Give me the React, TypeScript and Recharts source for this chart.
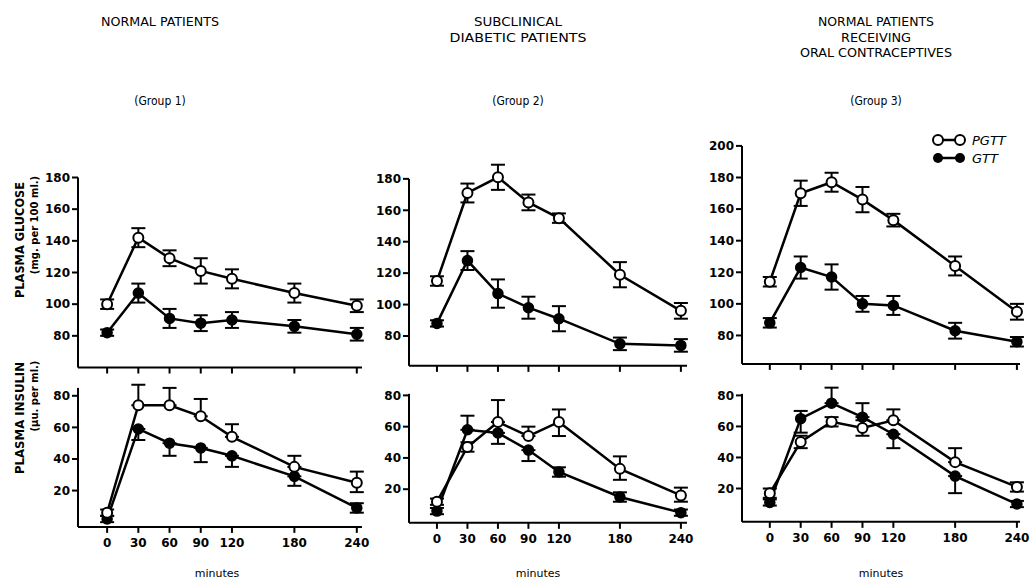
import React from 'react';
import { LineChart, Line, XAxis, YAxis, ErrorBar, ReferenceLine } from 'recharts';

// ---------- shared categories & ticks ----------
const minutes = [0, 30, 60, 90, 120, 180, 240];
const xTicks = [0, 30, 60, 90, 120, 180, 240];
const glucoseTicks = [80, 100, 120, 140, 160, 180];
const glucoseTicksG3 = [80, 100, 120, 140, 160, 180, 200];
const insulinTicks = [20, 40, 60, 80];

// ---------- text ----------
const groupTitles = [
  ['NORMAL PATIENTS'],
  ['SUBCLINICAL', 'DIABETIC PATIENTS'],
  ['NORMAL PATIENTS', 'RECEIVING', 'ORAL CONTRACEPTIVES'],
];
const groupLabels = ['(Group 1)', '(Group 2)', '(Group 3)'];
const seriesNames = ['PGTT', 'GTT'];

// ---------- Group 1 ----------
const g1GlucosePgtt = [100, 142, 129, 121, 116, 107, 99];
const g1GlucosePgttErr = [3, 6, 5, 8, 6, 6, 4];
const g1GlucoseGtt = [82, 107, 91, 88, 90, 86, 81];
const g1GlucoseGttErr = [2, 6, 6, 5, 5, 4, 4];
const g1InsulinPgtt = [6, 74, 74, 67, 54, 35, 25];
const g1InsulinPgttErr = [[2, 2], [0, 13], [0, 11], [0, 11], [0, 8], [0, 7], [6, 7]];
const g1InsulinGtt = [2, 59, 50, 47, 42, 29, 9];
const g1InsulinGttErr = [[2, 2], [7, 0], [8, 0], [9, 0], [7, 0], [6, 0], [3, 3]];

// ---------- Group 2 ----------
const g2GlucosePgtt = [115, 171, 181, 165, 155, 119, 96];
const g2GlucosePgttErr = [3, 6, 8, 5, 3, 8, 5];
const g2GlucoseGtt = [88, 128, 107, 98, 91, 75, 74];
const g2GlucoseGttErr = [2, 6, 9, 7, 8, 4, 4];
const g2InsulinPgtt = [12, 47, 63, 54, 63, 33, 16];
const g2InsulinPgttErr = [[2, 2], [3, 3], [0, 14], [0, 6], [9, 8], [7, 8], [4, 5]];
const g2InsulinGtt = [6, 58, 56, 45, 31, 15, 5];
const g2InsulinGttErr = [[2, 2], [0, 9], [7, 0], [7, 0], [3, 3], [3, 3], [2, 2]];

// ---------- Group 3 ----------
const g3GlucosePgtt = [114, 170, 177, 166, 153, 124, 95];
const g3GlucosePgttErr = [3, 8, 6, 8, 4, 6, 5];
const g3GlucoseGtt = [88, 123, 117, 100, 99, 83, 76];
const g3GlucoseGttErr = [3, 7, 8, 5, 6, 5, 3];
const g3InsulinPgtt = [17, 50, 63, 59, 64, 37, 21];
const g3InsulinPgttErr = [[3, 3], [4, 4], [3, 3], [5, 5], [0, 7], [0, 9], [3, 3]];
const g3InsulinGtt = [11, 65, 75, 66, 55, 28, 10];
const g3InsulinGttErr = [[2, 2], [9, 5], [0, 10], [0, 9], [9, 0], [11, 0], [2, 2]];

// ---------- layout (pixels / domains) ----------
type Geo = {
  left: number; right: number; bottom: number; axisTopPx: number;
  xMin: number; xMax: number; yMin: number; yAxisTop: number; yMax: number;
};
const geoG1Glu: Geo = { left: 78, right: 362, bottom: 367, axisTopPx: 177, xMin: -28, xMax: 245, yMin: 60, yAxisTop: 180, yMax: 186 };
const geoG1Ins: Geo = { left: 78, right: 362, bottom: 527, axisTopPx: 388, xMin: -28, xMax: 245, yMin: -3, yAxisTop: 85, yMax: 90 };
const geoG2Glu: Geo = { left: 409, right: 687, bottom: 366, axisTopPx: 179, xMin: -27.5, xMax: 246, yMin: 61, yAxisTop: 180, yMax: 192 };
const geoG2Ins: Geo = { left: 409, right: 687, bottom: 523, axisTopPx: 394, xMin: -27.5, xMax: 246, yMin: -1.5, yAxisTop: 81, yMax: 86 };
const geoG3Glu: Geo = { left: 742, right: 1020, bottom: 364, axisTopPx: 146, xMin: -27, xMax: 243, yMin: 62, yAxisTop: 200, yMax: 205 };
const geoG3Ins: Geo = { left: 742, right: 1020, bottom: 522, axisTopPx: 394, xMin: -27, xMax: 243, yMin: -1.5, yAxisTop: 81, yMax: 88 };

const FONT = "'DejaVu Sans', 'Liberation Sans', sans-serif";
const COND = "'DejaVu Sans Condensed', 'DejaVu Sans', sans-serif";
const tickStyle = { fill: '#000', fontSize: 12, fontFamily: FONT, fontWeight: 700 };

type PanelProps = {
  geo: Geo;
  pgtt: number[]; pgttErr: any[];
  gtt: number[]; gttErr: any[];
  yTicks: number[];
  showXLabels: boolean;
};

function Panel({ geo, pgtt, pgttErr, gtt, gttErr, yTicks, showXLabels }: PanelProps) {
  const data = minutes.map((m, i) => ({ m, p: pgtt[i], pe: pgttErr[i], g: gtt[i], ge: gttErr[i] }));
  const YW = 50, MT = 6, MR = 12, XH = 42;
  const pxPerUnit = (geo.bottom - geo.axisTopPx) / (geo.yAxisTop - geo.yMin);
  const plotTop = geo.bottom - (geo.yMax - geo.yMin) * pxPerUnit;
  const width = geo.right - geo.left + YW + MR;
  const height = geo.bottom - plotTop + MT + XH;
  return (
    <div style={{ position: 'absolute', left: geo.left - YW, top: plotTop - MT }}>
      <LineChart width={width} height={height} data={data} margin={{ top: MT, right: MR, bottom: 0, left: 0 }}>
        <XAxis
          dataKey="m" type="number" domain={[geo.xMin, geo.xMax]} ticks={xTicks} interval={0}
          height={XH} tickSize={6} tickMargin={6}
          axisLine={{ stroke: '#000', strokeWidth: 2 }} tickLine={{ stroke: '#000', strokeWidth: 2 }}
          tick={tickStyle}
          tickFormatter={(v: number) => (showXLabels ? String(v) : '')}
        />
        <YAxis
          type="number" domain={[geo.yMin, geo.yMax]} ticks={yTicks} interval={0}
          width={YW} tickSize={6} tickMargin={2}
          axisLine={false} tickLine={{ stroke: '#000', strokeWidth: 2 }}
          tick={tickStyle}
        />
        <ReferenceLine
          segment={[{ x: geo.xMin, y: geo.yMin }, { x: geo.xMin, y: geo.yAxisTop }]}
          stroke="#000" strokeWidth={2}
        />
        <Line
          dataKey="g" stroke="#000" strokeWidth={2.5} isAnimationActive={false}
          dot={{ r: 5, fill: '#000', stroke: '#000', strokeWidth: 1.5 }} activeDot={false}
        >
          <ErrorBar dataKey="ge" direction="y" width={7} stroke="#000" strokeWidth={2} isAnimationActive={false} />
        </Line>
        <Line
          dataKey="p" stroke="#000" strokeWidth={2.5} isAnimationActive={false}
          dot={{ r: 5, fill: '#fff', stroke: '#000', strokeWidth: 2 }} activeDot={false}
        >
          <ErrorBar dataKey="pe" direction="y" width={7} stroke="#000" strokeWidth={2} isAnimationActive={false} />
        </Line>
      </LineChart>
    </div>
  );
}

const titleCenters = [160, 518, 876];
const titleBaselines = [26, 41.5, 57];
const titleWidths = [[118], [88, 137], [116, 70, 152]];
const minutesCenters = [217, 538, 881];

export default function App() {
  return (
    <div style={{ position: 'absolute', left: 0, top: 0, width: 1035, height: 579, background: '#fff', overflow: 'hidden' }}>
      <Panel geo={geoG1Glu} pgtt={g1GlucosePgtt} pgttErr={g1GlucosePgttErr} gtt={g1GlucoseGtt} gttErr={g1GlucoseGttErr} yTicks={glucoseTicks} showXLabels={false} />
      <Panel geo={geoG1Ins} pgtt={g1InsulinPgtt} pgttErr={g1InsulinPgttErr} gtt={g1InsulinGtt} gttErr={g1InsulinGttErr} yTicks={insulinTicks} showXLabels={true} />
      <Panel geo={geoG2Glu} pgtt={g2GlucosePgtt} pgttErr={g2GlucosePgttErr} gtt={g2GlucoseGtt} gttErr={g2GlucoseGttErr} yTicks={glucoseTicks} showXLabels={false} />
      <Panel geo={geoG2Ins} pgtt={g2InsulinPgtt} pgttErr={g2InsulinPgttErr} gtt={g2InsulinGtt} gttErr={g2InsulinGttErr} yTicks={insulinTicks} showXLabels={true} />
      <Panel geo={geoG3Glu} pgtt={g3GlucosePgtt} pgttErr={g3GlucosePgttErr} gtt={g3GlucoseGtt} gttErr={g3GlucoseGttErr} yTicks={glucoseTicksG3} showXLabels={false} />
      <Panel geo={geoG3Ins} pgtt={g3InsulinPgtt} pgttErr={g3InsulinPgttErr} gtt={g3InsulinGtt} gttErr={g3InsulinGttErr} yTicks={insulinTicks} showXLabels={true} />

      <svg width={1035} height={579} style={{ position: 'absolute', left: 0, top: 0, pointerEvents: 'none' }}>
        {groupTitles.map((lines, gi) =>
          lines.map((t, li) => (
            <text key={`t${gi}${li}`} x={titleCenters[gi]} y={titleBaselines[li]} textAnchor="middle"
              textLength={titleWidths[gi][li]} lengthAdjust="spacingAndGlyphs"
              fontFamily={COND} fontSize={13} fill="#000">
              {t}
            </text>
          ))
        )}
        {groupLabels.map((t, gi) => (
          <text key={`g${gi}`} x={titleCenters[gi]} y={105} textAnchor="middle"
            fontFamily={COND} fontSize={12} fill="#000">
            {t}
          </text>
        ))}
        {minutesCenters.map((cx, i) => (
          <text key={`m${i}`} x={cx} y={577} textAnchor="middle" fontFamily={FONT} fontSize={11} fill="#000">minutes</text>
        ))}

        <text transform="translate(24,240) rotate(-90)" textAnchor="middle" fontFamily={FONT} fontWeight={700} fontSize={13}
          textLength={116} lengthAdjust="spacingAndGlyphs" fill="#000">PLASMA  GLUCOSE</text>
        <text transform="translate(38,225) rotate(-90)" textAnchor="middle" fontFamily={FONT} fontWeight={700} fontSize={10} fill="#000">(mg. per 100 ml.)</text>
        <text transform="translate(24,418) rotate(-90)" textAnchor="middle" fontFamily={FONT} fontWeight={700} fontSize={13}
          textLength={112} lengthAdjust="spacingAndGlyphs" fill="#000">PLASMA  INSULIN</text>
        <text transform="translate(38,396) rotate(-90)" textAnchor="middle" fontFamily={FONT} fontWeight={700} fontSize={10} fill="#000">(μu. per ml.)</text>

        {/* legend */}
        <line x1={938} y1={140} x2={960} y2={140} stroke="#000" strokeWidth={2.5} />
        <circle cx={938} cy={140} r={5} fill="#fff" stroke="#000" strokeWidth={2} />
        <circle cx={960} cy={140} r={5} fill="#fff" stroke="#000" strokeWidth={2} />
        <text x={972} y={145} fontFamily={FONT} fontStyle="italic" fontSize={13} fill="#000">{seriesNames[0]}</text>
        <line x1={938} y1={158} x2={960} y2={158} stroke="#000" strokeWidth={2.5} />
        <circle cx={938} cy={158} r={5} fill="#000" />
        <circle cx={960} cy={158} r={5} fill="#000" />
        <text x={972} y={163} fontFamily={FONT} fontStyle="italic" fontSize={13} fill="#000">{seriesNames[1]}</text>
      </svg>
    </div>
  );
}
